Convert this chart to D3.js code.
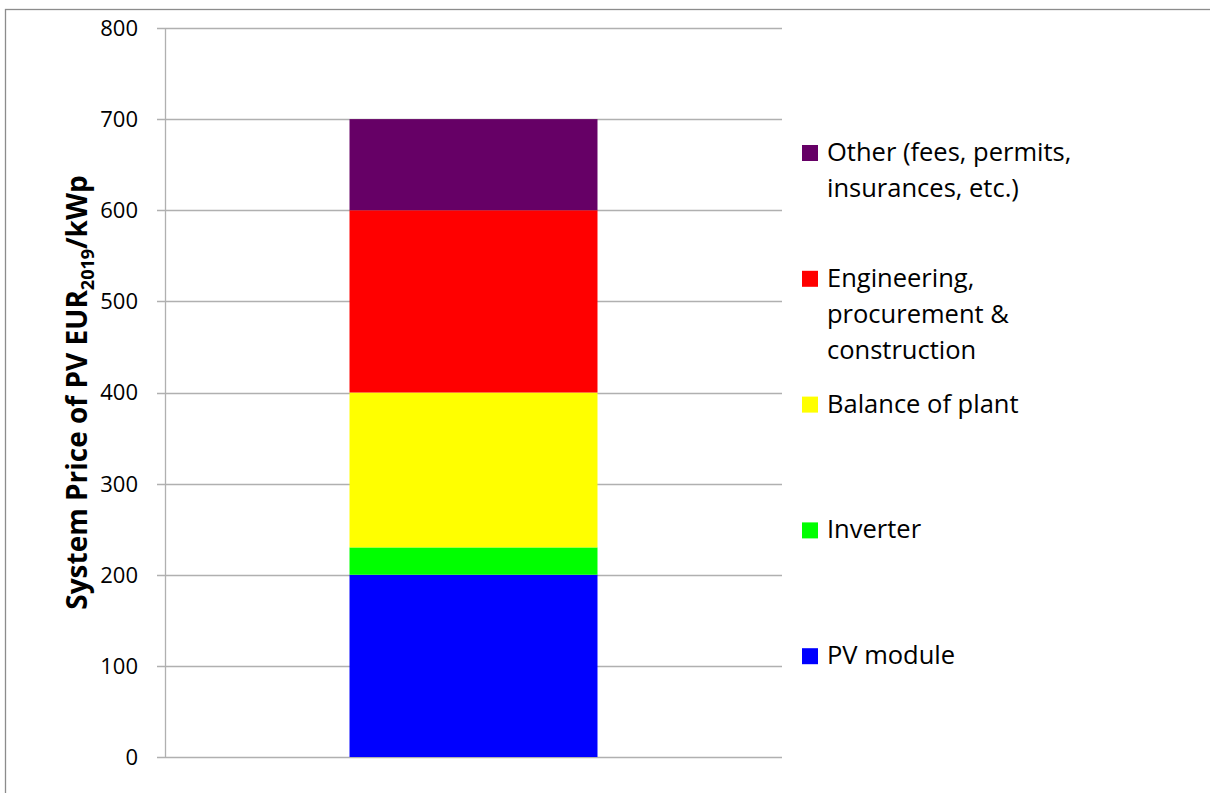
<!DOCTYPE html>
<html>
<head>
<meta charset="utf-8">
<script src="https://cdn.jsdelivr.net/npm/d3@7"></script>
<style>
  body { margin: 0; background: #fff; }
  svg text { font-family: "Open Sans", "Noto Sans", sans-serif; fill: #000; }
</style>
</head>
<body>
<svg id="chart" width="1210" height="793"></svg>
<script>
// data
var categories = ["PV module", "Inverter", "Balance of plant", "Engineering, procurement & construction", "Other (fees, permits, insurances, etc.)"];
var values     = [200, 30, 170, 200, 100];
var colors     = ["#0000ff", "#00ff00", "#ffff00", "#ff0000", "#660066"];
// legend text as it wraps in the picture (top to bottom)
var legendLines = [
  ["Other (fees, permits,", "insurances, etc.)"],
  ["Engineering,", "procurement &", "construction"],
  ["Balance of plant"],
  ["Inverter"],
  ["PV module"]
];
var yTicks = [0, 100, 200, 300, 400, 500, 600, 700, 800];

var svg = d3.select("#chart");

var plot = { x0: 165, x1: 782, y0: 28, y1: 757 };

// outer chart border
svg.append("rect")
   .attr("x", 5.5).attr("y", 9.5)
   .attr("width", 1230).attr("height", 820)
   .attr("fill", "none").attr("stroke", "#8c8c8c").attr("stroke-width", 1.3);

var y = d3.scaleLinear().domain([0, 800]).range([plot.y1, plot.y0]);
var x = d3.scaleBand().domain(["all"]).range([plot.x0, plot.x1])
          .paddingInner(0).paddingOuter(0.744);

// gridlines + tick marks
svg.append("g").selectAll("line")
   .data(yTicks).enter().append("line")
   .attr("x1", plot.x0 - 8).attr("x2", plot.x1)
   .attr("y1", function(d) { return Math.round(y(d)) + 0.5; })
   .attr("y2", function(d) { return Math.round(y(d)) + 0.5; })
   .attr("stroke", "#b0b0b0").attr("stroke-width", 1.3);

// y axis line
svg.append("line")
   .attr("x1", plot.x0 + 0.5).attr("x2", plot.x0 + 0.5)
   .attr("y1", plot.y0).attr("y2", plot.y1 + 1)
   .attr("stroke", "#b0b0b0").attr("stroke-width", 1.3);

// tick labels
svg.append("g").selectAll("text")
   .data(yTicks).enter().append("text")
   .attr("x", 138)
   .attr("y", function(d) { return y(d); })
   .attr("dy", "0.36em")
   .attr("text-anchor", "end")
   .style("font-size", "22px")
   .text(function(d) { return d; });

// stacked bar
var stack = [];
var acc = 0;
for (var i = 0; i < values.length; i++) {
  stack.push({ name: categories[i], lo: acc, hi: acc + values[i], color: colors[i] });
  acc += values[i];
}
svg.append("g").selectAll("rect")
   .data(stack).enter().append("rect")
   .attr("x", x("all"))
   .attr("width", x.bandwidth())
   .attr("y", function(d) { return y(d.hi); })
   .attr("height", function(d) { return y(d.lo) - y(d.hi); })
   .attr("fill", function(d) { return d.color; });

// axis title
var title = svg.append("text")
   .attr("transform", "translate(87," + ((plot.y0 + plot.y1) / 2) + ") rotate(-90)")
   .attr("text-anchor", "middle")
   .style("font-size", "28px")
   .style("font-weight", "bold");
title.append("tspan").text("System Price of PV EUR");
title.append("tspan").attr("dy", 7).style("font-size", "18px").text("2019");
title.append("tspan").attr("dy", -7).text("/kWp");

// legend
var legendColors = colors.slice().reverse();
var legend = svg.append("g").selectAll("g")
   .data(legendLines).enter().append("g")
   .attr("transform", function(d, i) { return "translate(802," + (161 + i * 125.8) + ")"; });
legend.append("rect")
   .attr("x", 0).attr("y", -16)
   .attr("width", 16).attr("height", 16)
   .attr("fill", function(d, i) { return legendColors[i]; });
legend.append("text")
   .style("font-size", "25.5px")
   .selectAll("tspan")
   .data(function(d) { return d; })
   .enter().append("tspan")
   .attr("x", 25)
   .attr("y", function(d, i) { return i * 36; })
   .text(function(d) { return d; });
</script>
</body>
</html>
